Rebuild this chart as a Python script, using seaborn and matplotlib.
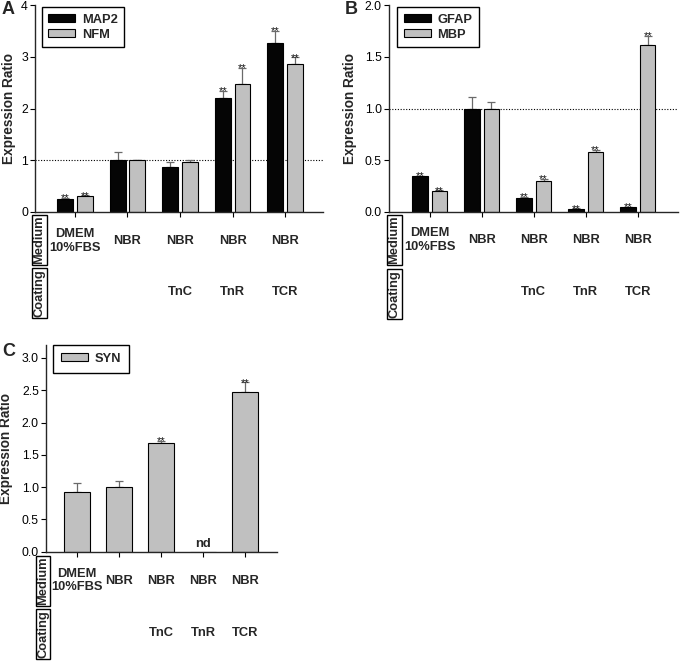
import numpy as np
import pandas as pd
import matplotlib
matplotlib.use("Agg")
import matplotlib.pyplot as plt
import seaborn as sns
from matplotlib.patches import Patch
from matplotlib import transforms

# ---------------- data ----------------
conditions = ["DMEM/10%FBS", "NBR", "NBR/TnC", "NBR/TnR", "NBR/TCR"]
medium_labels = ["DMEM\n10%FBS", "NBR", "NBR", "NBR", "NBR"]
coating_labels = ["", "", "TnC", "TnR", "TCR"]

map2 = [0.26, 1.00, 0.87, 2.21, 3.26]
map2_err = [0.02, 0.16, 0.10, 0.13, 0.24]
map2_sig = ["**", "", "", "**", "**"]
nfm = [0.30, 1.00, 0.97, 2.47, 2.86]
nfm_err = [0.02, 0.01, 0.04, 0.31, 0.13]
nfm_sig = ["**", "", "", "**", "**"]

gfap = [0.345, 1.00, 0.14, 0.03, 0.045]
gfap_err = [0.004, 0.11, 0.004, 0.004, 0.004]
gfap_sig = ["**", "", "**", "**", "**"]
mbp = [0.20, 1.00, 0.30, 0.575, 1.61]
mbp_err = [0.01, 0.06, 0.02, 0.025, 0.09]
mbp_sig = ["**", "", "**", "**", "**"]

syn = [0.92, 1.00, 1.69, 0.0, 2.48]
syn_err = [0.14, 0.10, 0.03, 0.0, 0.14]
syn_sig = ["", "", "**", "", "**"]
syn_nd = ["", "", "", "nd", ""]

# ---------------- style ----------------
BLACK = "#050505"
GRAY = "#c0c0c0"
ERRC = "#6a6a6a"
W, H = 680, 662

sns.set_style("ticks")
plt.rcParams["font.family"] = ["Liberation Sans", "DejaVu Sans"]
plt.rcParams["axes.linewidth"] = 1.0

fig = plt.figure(figsize=(W / 100, H / 100), dpi=100)


def px_axes(left, top, right, bottom):
    return fig.add_axes([left / W, 1 - bottom / H, (right - left) / W, (bottom - top) / H])


def fig_text(x, y, s, **kw):
    return fig.text(x / W, 1 - y / H, s, **kw)


def style_axis(ax, ylim, yticks, fmt, xlim, ylabel_x):
    ax.set_ylim(*ylim)
    ax.set_xlim(*xlim)
    ax.set_yticks(yticks)
    ax.set_yticklabels([fmt.format(t) for t in yticks])
    ax.set_xticklabels([])
    ax.set_xlabel("")
    ax.set_ylabel("Expression Ratio", fontsize=9.8, fontweight="bold")
    ax.yaxis.set_label_coords(ylabel_x, 0.5)
    ax.tick_params(axis="both", direction="out", length=3.3, width=0.8,
                   labelsize=8.8, pad=1.8, colors="black")
    sns.despine(ax=ax)


def annotate_bars(ax, container, errs, sigs):
    for bar, e, s in zip(container, errs, sigs):
        x = bar.get_x() + bar.get_width() / 2
        h = bar.get_height()
        if e > 0:
            ax.errorbar(x, h, yerr=[[0], [e]], fmt="none", ecolor=ERRC,
                        elinewidth=0.9, capsize=2.6, capthick=0.9, zorder=1)
        if s:
            ax.annotate(s, xy=(x, h + e), xytext=(0, -2.4), textcoords="offset points",
                        ha="center", va="baseline", fontsize=8, color="#111111")


def table_labels(ax, med_off, coat_off, ax_h):
    tr = transforms.blended_transform_factory(ax.transData, ax.transAxes)
    for i, (m, c) in enumerate(zip(medium_labels, coating_labels)):
        ax.text(i, -med_off / ax_h, m, transform=tr, ha="center", va="center",
                fontsize=9.3, fontweight="bold", linespacing=1.15)
        if c:
            ax.text(i, -coat_off / ax_h, c, transform=tr, ha="center", va="center",
                    fontsize=9.3, fontweight="bold")


def row_boxes(x, y_med, y_coat):
    box = dict(boxstyle="square,pad=0.08", fc="white", ec="black", lw=1)
    fig_text(x, y_med, "Medium", rotation=90, ha="center", va="center",
             fontsize=9.3, fontweight="bold", bbox=box)
    fig_text(x, y_coat, "Coating", rotation=90, ha="center", va="center",
             fontsize=9.3, fontweight="bold", bbox=box)


def legend(ax, names, colors, anchor, borderpad):
    handles = [Patch(facecolor=c, edgecolor="black", lw=0.8, label=n)
               for n, c in zip(names, colors)]
    leg = ax.legend(handles=handles, loc="upper left", bbox_to_anchor=anchor,
                    borderaxespad=0, frameon=True, fancybox=False, framealpha=1,
                    edgecolor="black", prop={"weight": "bold", "size": 9.3},
                    handlelength=2.1, handleheight=0.55, handletextpad=0.5,
                    labelspacing=0.25, borderpad=borderpad)
    leg.get_frame().set_linewidth(1.0)


def paired_panel(ax, names, v1, e1, s1, v2, e2, s2):
    df = pd.DataFrame({
        "condition": conditions * 2,
        "marker": [names[0]] * len(conditions) + [names[1]] * len(conditions),
        "ratio": v1 + v2,
    })
    sns.barplot(data=df, x="condition", y="ratio", hue="marker", order=conditions,
                hue_order=names, palette=[BLACK, GRAY], saturation=1, width=0.75,
                gap=0.2, edgecolor="black", linewidth=0.8, errorbar=None,
                legend=False, ax=ax, zorder=2)
    for cont, e, s in zip(ax.containers, [e1, e2], [s1, s2]):
        annotate_bars(ax, cont, e, s)
    ax.axhline(1.0, ls=(0, (1, 1.5)), color="black", lw=0.8, zorder=0)


# ---------------- panel A ----------------
axA = px_axes(35, 5, 323, 212)
paired_panel(axA, ["MAP2", "NFM"], map2, map2_err, map2_sig, nfm, nfm_err, nfm_sig)
style_axis(axA, (0, 4), [0, 1, 2, 3, 4], "{:.0f}", (-0.76, 4.72), -0.066)
legend(axA, ["MAP2", "NFM"], [BLACK, GRAY], (0.024, 0.99), 0.5)
table_labels(axA, 29, 80, 207)
row_boxes(39.5, 240, 293)
fig_text(2, 1, "A", fontsize=13, fontweight="bold", ha="left", va="top")

# ---------------- panel B ----------------
axB = px_axes(389, 5, 678, 212)
paired_panel(axB, ["GFAP", "MBP"], gfap, gfap_err, gfap_sig, mbp, mbp_err, mbp_sig)
style_axis(axB, (0, 2), [0, 0.5, 1.0, 1.5, 2.0], "{:.1f}", (-0.78, 4.77), -0.111)
legend(axB, ["GFAP", "MBP"], [BLACK, GRAY], (0.028, 0.99), 0.5)
table_labels(axB, 28, 80, 207)
row_boxes(394.5, 240, 294)
fig_text(345, 1, "B", fontsize=13, fontweight="bold", ha="left", va="top")

# ---------------- panel C ----------------
axC = px_axes(46, 345, 277, 551.7)
sns.barplot(x=conditions, y=syn, order=conditions, color=GRAY, saturation=1,
            width=0.62, edgecolor="black", linewidth=0.8, errorbar=None, ax=axC, zorder=2)
annotate_bars(axC, axC.containers[0], syn_err, syn_sig)
for i, t in enumerate(syn_nd):
    if t:
        axC.text(i, 0.03, t, ha="center", va="bottom", fontsize=9.3, fontweight="bold")
style_axis(axC, (0, 3.2), [0, 0.5, 1.0, 1.5, 2.0, 2.5, 3.0], "{:.1f}", (-0.74, 4.76), -0.143)
legend(axC, ["SYN"], [GRAY], (0.03, 1.0), 0.6)
table_labels(axC, 29, 81, 206.7)
row_boxes(43, 581, 634)
fig_text(2, 343, "C", fontsize=13, fontweight="bold", ha="left", va="top")

fig.savefig("out.png", dpi=100)
